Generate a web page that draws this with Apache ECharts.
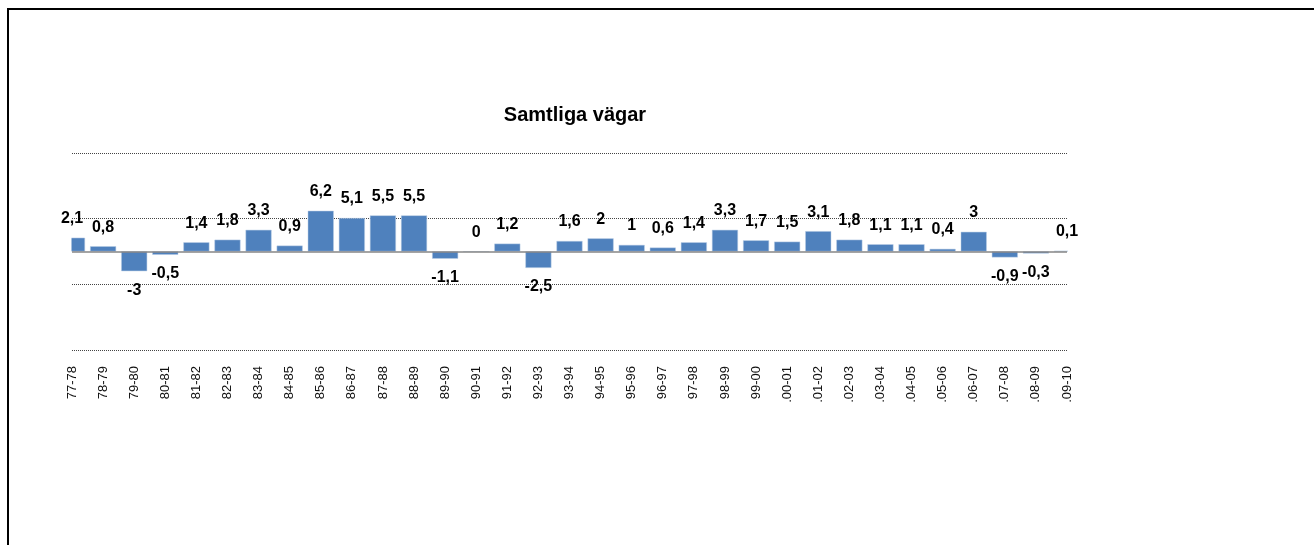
<!DOCTYPE html>
<html>
<head>
<meta charset="utf-8">
<script src="https://cdn.jsdelivr.net/npm/echarts@6/dist/echarts.min.js"></script>
<style>
html,body{margin:0;padding:0;background:#fff;}
#chart{width:1314px;height:545px;}
</style>
</head>
<body>
<div id="chart"></div>
<script>
var titleText = 'Samtliga vägar';
var categories = ['77-78','78-79','79-80','80-81','81-82','82-83','83-84','84-85','85-86','86-87','87-88','88-89','89-90','90-91','91-92','92-93','93-94','94-95','95-96','96-97','97-98','98-99','99-00','.00-01','.01-02','.02-03','.03-04','.04-05','.05-06','.06-07','.07-08','.08-09','.09-10'];
var values = [2.1,0.8,-3,-0.5,1.4,1.8,3.3,0.9,6.2,5.1,5.5,5.5,-1.1,0,1.2,-2.5,1.6,2,1,0.6,1.4,3.3,1.7,1.5,3.1,1.8,1.1,1.1,0.4,3,-0.9,-0.3,0.1];
var yMin = -15, yMax = 15, yInterval = 10;

var chart = echarts.init(document.getElementById('chart'), null, {renderer:'canvas'});
var seriesData = values.map(function(v){
  return {value: v, label: {position: v < 0 ? 'bottom' : 'top'}};
});
chart.setOption({
  animation: false,
  backgroundColor: '#fff',
  title: {
    text: titleText,
    left: 570, top: 100, textAlign: 'center',
    textStyle: {fontFamily: 'Liberation Sans, Arial', fontWeight: 'bold', fontSize: 20, color: '#000'}
  },
  graphic: [
    {type: 'rect', silent: true, z: 100,
     shape: {x: 10, y: 234, width: 61.5, height: 40},
     style: {fill: '#fff'}},
    {type: 'rect', silent: true, z: 100,
     shape: {x: 1068, y: 243, width: 240, height: 20},
     style: {fill: '#fff'}},
    {type: 'rect', silent: true, z: 101,
     shape: {x: 8, y: 9, width: 1400, height: 600},
     style: {fill: 'none', stroke: '#000', lineWidth: 2}}
  ],
  grid: {left: 72, right: 247, top: 153, bottom: 195, containLabel: false},
  xAxis: {
    type: 'category', data: categories, boundaryGap: false,
    axisLine: {show: false}, axisTick: {show: false},
    axisLabel: {rotate: 90, margin: 16, fontSize: 13, color: '#111', fontFamily: 'Liberation Sans, Arial', interval: 0},
    splitLine: {show: false}
  },
  yAxis: {
    type: 'value', min: yMin, max: yMax, interval: yInterval,
    axisLine: {show: false}, axisTick: {show: false}, axisLabel: {show: false},
    splitLine: {show: true, lineStyle: {color: '#444', type: 'dotted', width: 1}}
  },
  series: [{
    type: 'bar', data: seriesData, barWidth: 26, clip: true,
    itemStyle: {color: '#4f81bd', borderColor: '#b9cde5', borderWidth: 0.5},
    label: {
      show: true, distance: 11,
      fontFamily: 'Liberation Sans, Arial', fontWeight: 'bold', fontSize: 16, color: '#000',
      formatter: function(p){ return String(p.value).replace('.', ','); }
    },
    markLine: {
      silent: true, symbol: 'none', animation: false,
      label: {show: false},
      lineStyle: {color: '#868686', type: 'solid', width: 1.5},
      data: [{yAxis: 0}]
    }
  }]
});
</script>
</body>
</html>
